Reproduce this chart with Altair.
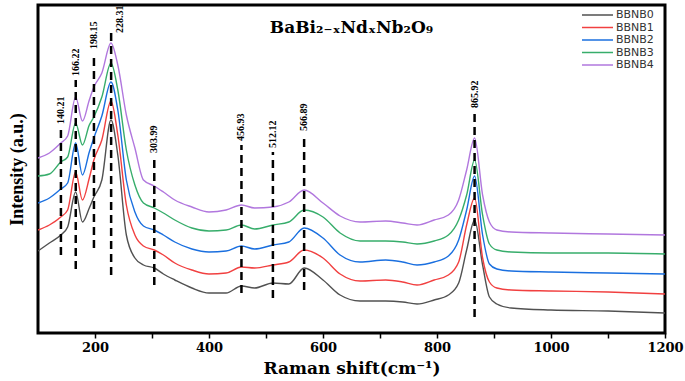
import altair as alt
import pandas as pd

shift = [100, 120, 140, 152, 166, 178, 190, 198, 212, 228, 240, 255, 270, 285, 304,
         320, 340, 370, 400, 430, 457, 480, 512, 540, 567, 600, 630, 665, 710, 740,
         765, 795, 820, 838, 852, 866, 880, 892, 905, 930, 1000, 1100, 1200]

bbnb0 = [82, 90, 98, 106, 141, 111, 125, 136, 153, 213, 178, 98, 75, 68, 65,
         59, 53, 45, 40, 40, 47, 45, 50, 49, 65, 53, 38, 32, 32, 31,
         29, 33, 38, 50, 83, 113, 68, 36, 29, 25, 23, 22, 20]
bbnb1 = [103, 108, 116, 123, 161, 133, 155, 173, 193, 232, 198, 128, 98, 87, 83,
         78, 70, 63, 59, 60, 66, 65, 68, 71, 83, 75, 59, 52, 53, 51,
         48, 53, 58, 71, 108, 135, 75, 51, 45, 43, 42, 41, 39]
bbnb2 = [130, 135, 144, 150, 190, 158, 181, 195, 217, 251, 223, 153, 121, 107, 103,
         98, 91, 84, 81, 82, 87, 84, 88, 91, 105, 95, 78, 71, 73, 71,
         68, 71, 77, 93, 123, 157, 98, 69, 64, 62, 61, 60, 59]
bbnb3 = [157, 159, 171, 176, 210, 188, 208, 216, 236, 270, 243, 183, 148, 130, 125,
         120, 113, 105, 102, 103, 108, 104, 108, 111, 123, 116, 100, 92, 92, 91,
         89, 92, 98, 113, 138, 173, 118, 89, 83, 81, 80, 80, 79]
bbnb4 = [175, 180, 190, 197, 236, 212, 233, 246, 260, 290, 268, 218, 185, 153, 147,
         141, 133, 126, 121, 123, 128, 125, 126, 131, 143, 130, 117, 111, 112, 110,
         108, 113, 118, 133, 163, 195, 138, 111, 103, 101, 100, 99, 98]

samples = ["BBNB0", "BBNB1", "BBNB2", "BBNB3", "BBNB4"]
colors = ["#515151", "#F14040", "#1A6FDF", "#37AD6B", "#B177DE"]

# marked peak positions and the extent of their dashed guide lines
peak_pos = [140.21, 166.22, 198.15, 228.31, 303.99, 456.93, 512.12, 566.89, 865.92]
peak_text = ["140.21", "166.22", "198.15", "228.31", "303.99", "456.93", "512.12", "566.89", "865.92"]
line_low = [78, 64, 85, 58, 48, 40, 35, 43, 16]
line_high = [205, 253, 280, 305, 176, 188, 181, 198, 221]

rows = []
for name, vals in zip(samples, [bbnb0, bbnb1, bbnb2, bbnb3, bbnb4]):
    for s, v in zip(shift, vals):
        rows.append({"shift": s, "intensity": v, "sample": name})
spec = pd.DataFrame(rows)

peaks = pd.DataFrame({"pos": peak_pos, "label": peak_text, "low": line_low, "high": line_high})
legend_df = pd.DataFrame({"sample": samples})

SERIF = "DejaVu Serif"

xscale = alt.Scale(domain=[100, 1200], nice=False, zero=False)
yscale = alt.Scale(domain=[0, 328], nice=False, zero=False)
cscale = alt.Scale(domain=samples, range=colors)

xaxis = alt.Axis(
    values=list(range(200, 1201, 100)),
    format="d",
    labelExpr="datum.value % 200 == 0 ? datum.label : ''",
    title="Raman shift(cm\u207b\u00b9)",
    titleFont=SERIF, titleFontSize=17, titleFontWeight="bold", titleColor="black",
    titlePadding=6,
    labelFont=SERIF, labelFontSize=13, labelFontWeight="bold", labelColor="black",
    labelPadding=3, tickSize=5, tickWidth=1.5, tickColor="black",
    domain=False, grid=False, labelFlush=False,
)
yaxis = alt.Axis(
    title="Intensity (a.u.)", labels=False, ticks=False, domain=False, grid=False,
    titleFont="Liberation Serif", titleFontSize=18, titleFontWeight="bold",
    titleColor="black", titlePadding=12,
)

lines = alt.Chart(spec).mark_line(strokeWidth=1.4, interpolate="monotone", clip=True).encode(
    x=alt.X("shift:Q", scale=xscale, axis=xaxis),
    y=alt.Y("intensity:Q", scale=yscale, axis=yaxis),
    color=alt.Color("sample:N", scale=cscale, legend=None),
    detail="sample:N",
)

rules = alt.Chart(peaks).mark_rule(color="black", strokeWidth=2.5, strokeDash=[8, 5]).encode(
    x=alt.X("pos:Q", scale=xscale),
    y=alt.Y("low:Q", scale=yscale),
    y2="high:Q",
)

labels_main = alt.Chart(peaks).transform_filter(alt.datum.label != "228.31").mark_text(
    angle=270, align="left", baseline="middle", dx=4,
    font="Liberation Serif", fontSize=10, fontWeight="bold", color="black",
).encode(
    x=alt.X("pos:Q", scale=xscale),
    y=alt.Y("high:Q", scale=yscale),
    text="label:N",
)

labels_side = alt.Chart(peaks).transform_filter(alt.datum.label == "228.31").mark_text(
    angle=270, align="left", baseline="middle", dx=-5, dy=9,
    font="Liberation Serif", fontSize=10, fontWeight="bold", color="black",
).encode(
    x=alt.X("pos:Q", scale=xscale),
    y=alt.Y("high:Q", scale=yscale),
    text="label:N",
)

data_layer = alt.layer(lines, rules, labels_main, labels_side)

# hand-built legend in the top-right corner (compact rows like the original)
leg_y = alt.Y("sample:N", scale=alt.Scale(type="point", domain=samples, range=[10, 60], padding=0), axis=None)
legend_lines = alt.Chart(legend_df).mark_rule(strokeWidth=1.5).encode(
    x=alt.value(544), x2=alt.value(575),
    y=leg_y,
    color=alt.Color("sample:N", scale=cscale, legend=None),
)
legend_text = alt.Chart(legend_df).mark_text(
    align="left", baseline="middle", font="DejaVu Sans", fontSize=11, color="#333333",
).encode(
    x=alt.value(578),
    y=leg_y,
    text="sample:N",
)
legend_layer = alt.layer(legend_lines, legend_text)

chart = alt.layer(data_layer, legend_layer).resolve_scale(y="independent").properties(
    width=627,
    height=328,
    autosize=alt.AutoSizeParams(type="none"),
    padding={"left": 38, "top": 5, "right": 20, "bottom": 48},
    title=alt.Title(
        "BaBi\u2082\u208b\u2093Nd\u2093Nb\u2082O\u2089",
        offset=-32, anchor="middle", font=SERIF, fontSize=17, fontWeight="bold", color="black",
    ),
).configure_view(stroke="black", strokeWidth=3)

chart.save("out.html", embed_options={"renderer": "svg", "actions": False})
